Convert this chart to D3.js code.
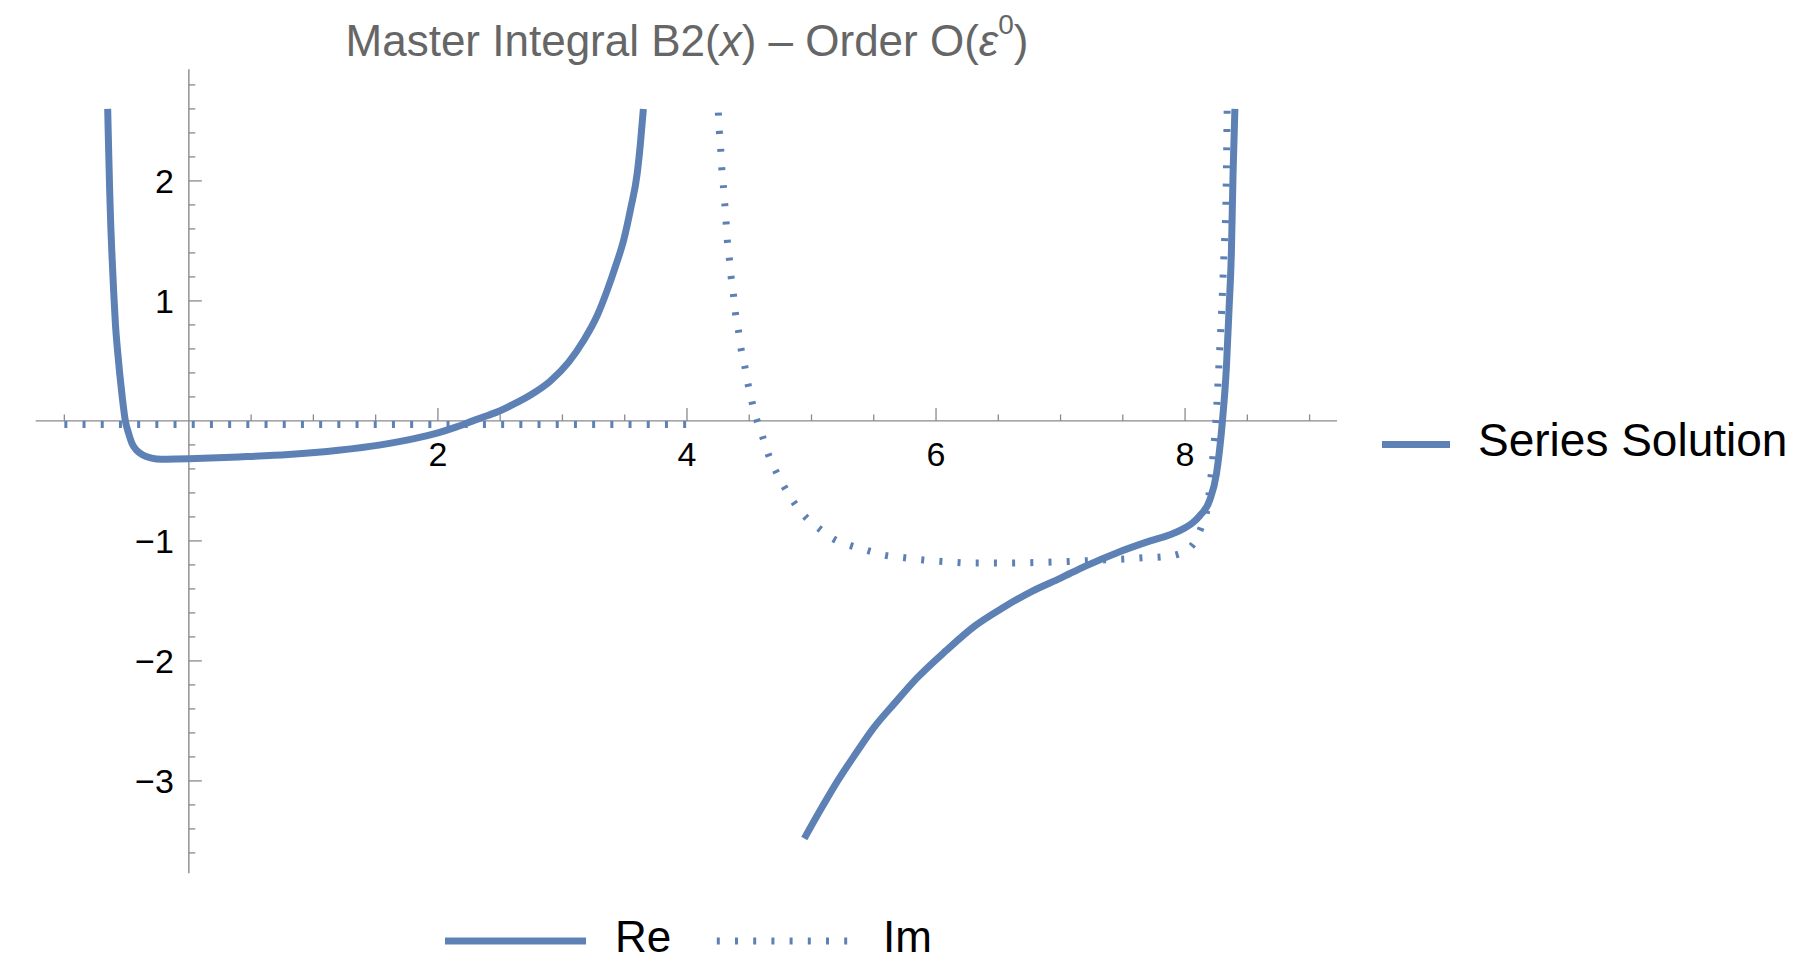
<!DOCTYPE html>
<html>
<head>
<meta charset="utf-8">
<script src="https://cdn.jsdelivr.net/npm/d3@7"></script>
<style>
  html, body { margin: 0; padding: 0; background: #ffffff; }
  svg { display: block; }
  text { font-family: "Liberation Sans", Arial, Helvetica, sans-serif; }
</style>
</head>
<body>
<svg id="chart" width="1799" height="962"></svg>
<script>
// ---- Series data: B2(x) at order eps^0 (real and imaginary parts) ----
// Real part, first branch (pole near x = 3.7)
const reBranch1X = [-0.652, -0.644, -0.636, -0.627, -0.617, -0.604, -0.590, -0.574, -0.555, -0.534,
                    -0.510, -0.485, -0.456, -0.420, -0.370, -0.300, -0.220, -0.100, 0.000, 0.400,
                    0.800, 1.200, 1.540, 1.800, 2.000, 2.150, 2.280, 2.400, 2.500, 2.600,
                    2.750, 2.900, 3.050, 3.170, 3.280, 3.360, 3.430, 3.490, 3.550, 3.600, 3.625, 3.650];
const reBranch1Y = [2.60, 2.25, 1.92, 1.62, 1.37, 1.08, 0.81, 0.60, 0.39, 0.19,
                    0.00, -0.10, -0.19, -0.245, -0.285, -0.310, -0.320, -0.318, -0.315, -0.300,
                    -0.280, -0.245, -0.200, -0.150, -0.100, -0.050, 0.000, 0.045, 0.085, 0.135,
                    0.220, 0.330, 0.490, 0.670, 0.880, 1.090, 1.300, 1.500, 1.780, 2.060, 2.300, 2.600];

// Real part, second branch (from x = 4.94 up to the pole near x = 8.4)
const reBranch2X = [4.942, 5.070, 5.210, 5.350, 5.490, 5.670, 5.850, 6.080, 6.310, 6.540,
                    6.770, 7.000, 7.200, 7.450, 7.720, 7.900, 7.984, 8.060, 8.118, 8.198,
                    8.252, 8.300, 8.332, 8.353, 8.372, 8.385, 8.400];
const reBranch2Y = [-3.480, -3.245, -3.000, -2.780, -2.570, -2.350, -2.140, -1.915, -1.710, -1.555,
                    -1.420, -1.310, -1.210, -1.100, -1.000, -0.940, -0.900, -0.850, -0.790, -0.660,
                    -0.440, 0.000, 0.450, 0.930, 1.410, 2.050, 2.600];

// Imaginary part, below threshold (vanishing)
const imBranch1X = [-1.0, 4.0];
const imBranch1Y = [-0.03, -0.03];

// Imaginary part, above threshold
const imBranch2X = [4.252, 4.260, 4.271, 4.279, 4.292, 4.303, 4.314, 4.324, 4.340, 4.354,
                    4.373, 4.389, 4.413, 4.434, 4.464, 4.490, 4.522, 4.560, 4.608, 4.653,
                    4.713, 4.782, 4.860, 4.953, 5.063, 5.183, 5.309, 5.443, 5.590, 5.737,
                    5.900, 6.100, 6.300, 6.500, 6.800, 7.100, 7.380, 7.530, 7.660, 7.800,
                    7.947, 8.070, 8.130, 8.177, 8.225, 8.247, 8.273, 8.295, 8.313, 8.329, 8.338];
const imBranch2Y = [2.569, 2.416, 2.263, 2.111, 1.961, 1.811, 1.658, 1.505, 1.355, 1.205,
                    1.055, 0.902, 0.752, 0.602, 0.455, 0.308, 0.158, 0.011, -0.134, -0.278,
                    -0.418, -0.551, -0.681, -0.801, -0.898, -0.987, -1.037, -1.078, -1.120, -1.139,
                    -1.160, -1.175, -1.185, -1.185, -1.180, -1.170, -1.157, -1.150, -1.140, -1.134,
                    -1.110, -1.020, -0.886, -0.730, -0.280, 0.000, 0.490, 0.950, 1.410, 1.870, 2.600];

// Axis ticks and labels
const xMajorTicks = [2, 4, 6, 8];
const xTickLabels = ["2", "4", "6", "8"];
const yMajorTicks = [-3, -2, -1, 1, 2];
const yTickLabels = ["\u22123", "\u22122", "\u22121", "1", "2"];

// Legend entries
const styleLegend = ["Re", "Im"];
const seriesLegend = ["Series Solution"];

// ---- Layout ----
const color = "#5E81B5";
const axisColor = "#8a8a8a";
const lineW = 7;
const dotPattern = "3,15.2";

const svg = d3.select("#chart");

const x = d3.scaleLinear().domain([-1.23, 9.22]).range([35.7, 1337]);
const y = d3.scaleLinear().domain([-3.77, 2.93]).range([873.3, 69.3]);

// ---- Axes (drawn through the origin) ----
const axes = svg.append("g");
const x0 = x(0), y0 = y(0);

axes.append("line")
  .attr("x1", x.range()[0]).attr("x2", x.range()[1])
  .attr("y1", y0).attr("y2", y0)
  .attr("stroke", axisColor).attr("stroke-width", 1.4);
axes.append("line")
  .attr("x1", x0).attr("x2", x0)
  .attr("y1", y.range()[1]).attr("y2", y.range()[0])
  .attr("stroke", axisColor).attr("stroke-width", 1.4);

// x ticks: minor every 0.5, major at labelled values, drawn upward
const xMinor = d3.range(-1, 9.01, 0.5).filter(v => Math.abs(v) > 1e-9 && !xMajorTicks.some(m => Math.abs(m - v) < 1e-9));
axes.selectAll(".xminor").data(xMinor).join("line")
  .attr("x1", d => x(d)).attr("x2", d => x(d))
  .attr("y1", y0).attr("y2", y0 - 6.5)
  .attr("stroke", axisColor).attr("stroke-width", 1.3);
axes.selectAll(".xmajor").data(xMajorTicks).join("line")
  .attr("x1", d => x(d)).attr("x2", d => x(d))
  .attr("y1", y0).attr("y2", y0 - 13)
  .attr("stroke", axisColor).attr("stroke-width", 1.3);
axes.selectAll(".xlabel").data(xMajorTicks).join("text")
  .attr("x", d => x(d)).attr("y", y0 + 45)
  .attr("text-anchor", "middle")
  .attr("font-size", 34).attr("fill", "#000")
  .text((d, i) => xTickLabels[i]);

// y ticks: minor every 0.2, major at labelled values, drawn to the right
const yMinor = d3.range(-36, 29, 2).map(v => v / 10)
  .filter(v => Math.abs(v) > 1e-9 && !yMajorTicks.some(m => Math.abs(m - v) < 1e-9));
axes.selectAll(".yminor").data(yMinor).join("line")
  .attr("x1", x0).attr("x2", x0 + 6.5)
  .attr("y1", d => y(d)).attr("y2", d => y(d))
  .attr("stroke", axisColor).attr("stroke-width", 1.3);
axes.selectAll(".ymajor").data(yMajorTicks).join("line")
  .attr("x1", x0).attr("x2", x0 + 13)
  .attr("y1", d => y(d)).attr("y2", d => y(d))
  .attr("stroke", axisColor).attr("stroke-width", 1.3);
axes.selectAll(".ylabel").data(yMajorTicks).join("text")
  .attr("x", x0 - 15).attr("y", d => y(d) + 12)
  .attr("text-anchor", "end")
  .attr("font-size", 34).attr("fill", "#000")
  .text((d, i) => yTickLabels[i]);

// ---- Curves ----
const line = d3.line()
  .x(d => x(d[0])).y(d => y(d[1]))
  .curve(d3.curveMonotoneX);
const zip = (xs, ys) => xs.map((v, i) => [v, ys[i]]);

const curves = svg.append("g").attr("fill", "none").attr("stroke", color).attr("stroke-width", lineW);

[zip(imBranch1X, imBranch1Y), zip(imBranch2X, imBranch2Y)].forEach(pts => {
  curves.append("path").attr("d", line(pts))
    .attr("stroke-dasharray", dotPattern)
    .attr("stroke-linecap", "butt");
});
[zip(reBranch1X, reBranch1Y), zip(reBranch2X, reBranch2Y)].forEach(pts => {
  curves.append("path").attr("d", line(pts))
    .attr("stroke-linejoin", "round");
});

// ---- Title ----
const title = svg.append("text")
  .attr("x", 687).attr("y", 56)
  .attr("text-anchor", "middle")
  .attr("font-size", 44).attr("fill", "#666666");
title.append("tspan").text("Master Integral B2(");
title.append("tspan").attr("font-style", "italic").text("x");
title.append("tspan").text(") \u2013 Order O(");
title.append("tspan").attr("font-style", "italic").text("\u03B5");
title.append("tspan").attr("font-size", 28).attr("dy", -22).text("0");
title.append("tspan").attr("dy", 22).text(")");

// ---- Legends ----
const lg = svg.append("g");
// series legend (right)
lg.append("line").attr("x1", 1382).attr("x2", 1450).attr("y1", 444.5).attr("y2", 444.5)
  .attr("stroke", color).attr("stroke-width", lineW);
lg.append("text").attr("x", 1478).attr("y", 456).attr("font-size", 46).attr("fill", "#000")
  .text(seriesLegend[0]);

// style legend (bottom)
lg.append("line").attr("x1", 445).attr("x2", 586).attr("y1", 941).attr("y2", 941)
  .attr("stroke", color).attr("stroke-width", lineW);
lg.append("text").attr("x", 615).attr("y", 952).attr("font-size", 44).attr("fill", "#000")
  .text(styleLegend[0]);
lg.append("line").attr("x1", 716.8).attr("x2", 849).attr("y1", 941).attr("y2", 941)
  .attr("stroke", color).attr("stroke-width", lineW)
  .attr("stroke-dasharray", dotPattern);
lg.append("text").attr("x", 883).attr("y", 952).attr("font-size", 44).attr("fill", "#000")
  .text(styleLegend[1]);
</script>
</body>
</html>
